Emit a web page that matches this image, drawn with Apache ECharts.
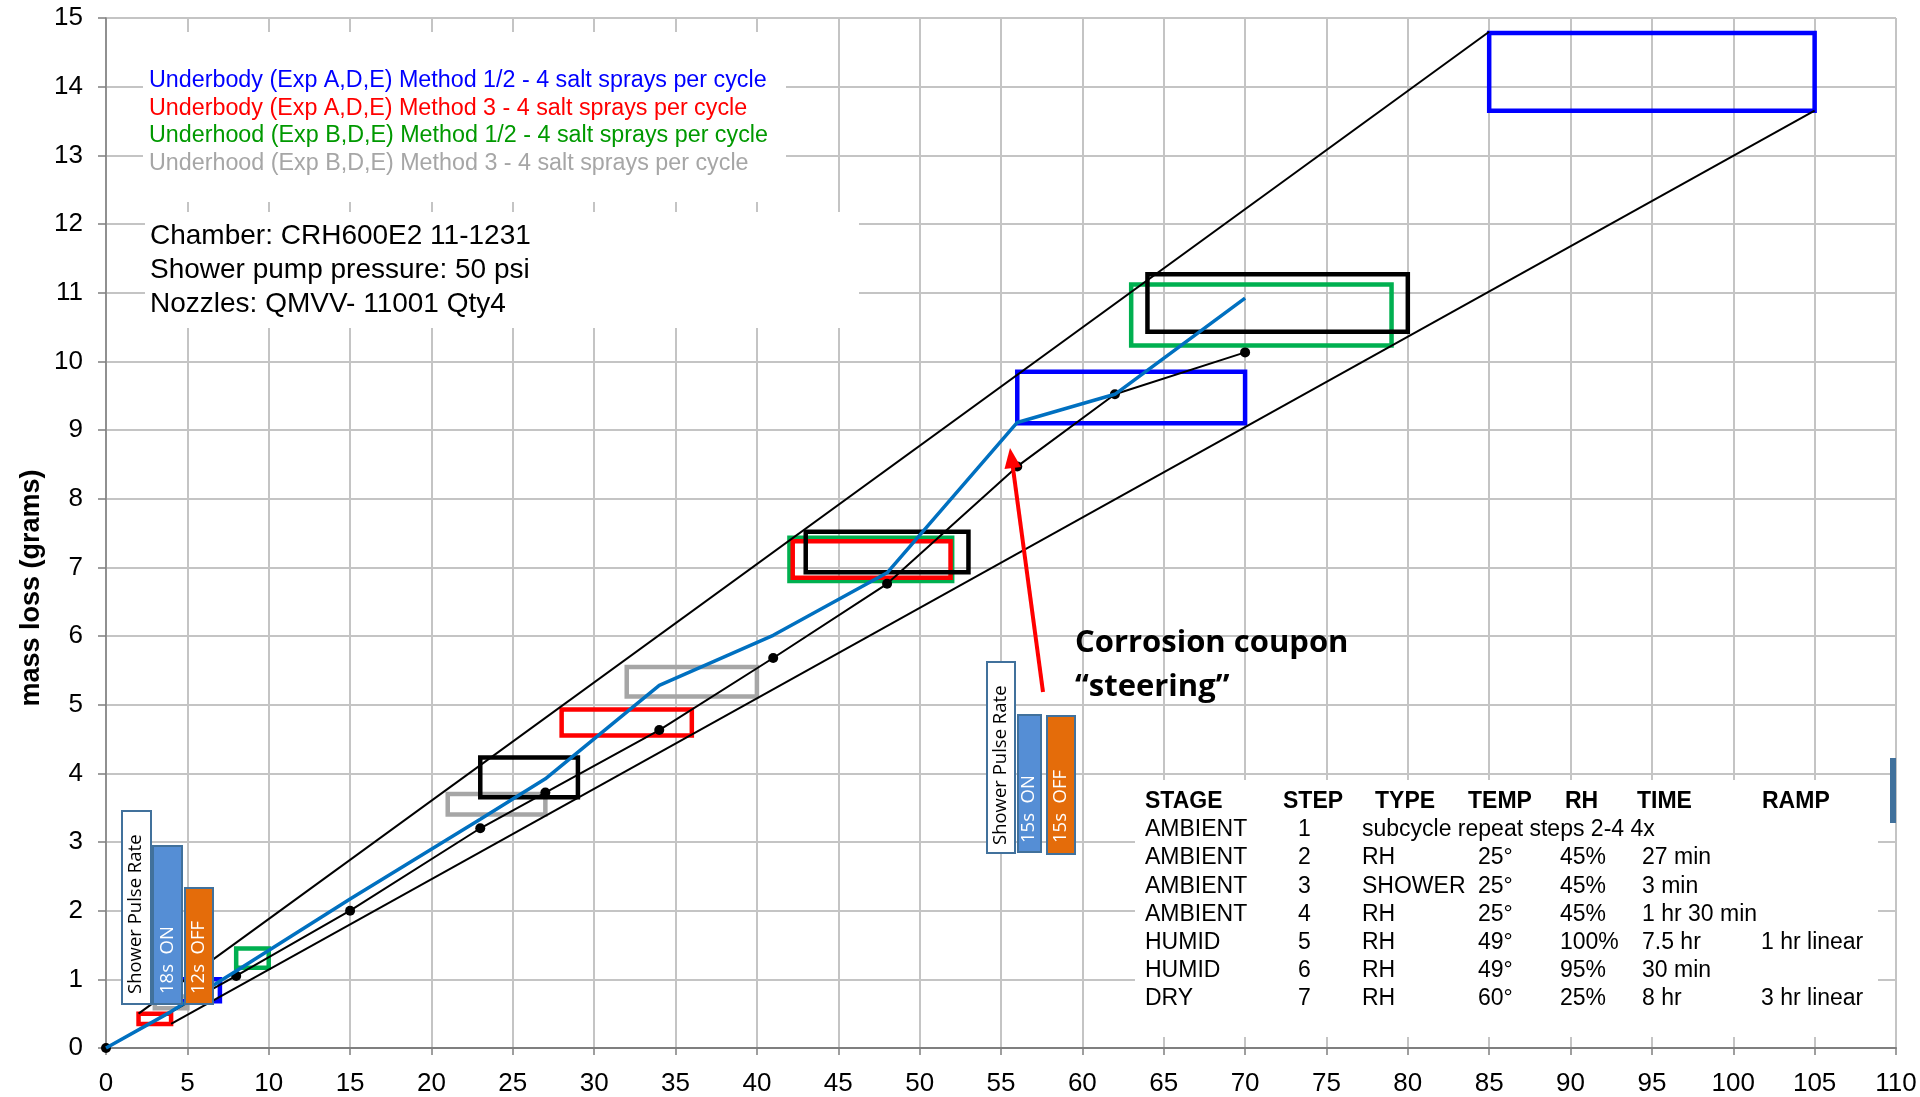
<!DOCTYPE html>
<html>
<head>
<meta charset="utf-8">
<script src="https://cdn.jsdelivr.net/npm/echarts/dist/echarts.min.js"></script>
<style>
  html, body { margin: 0; padding: 0; background: #fff; }
  #chart { width: 1920px; height: 1097px; }
</style>
</head>
<body>
<div id="chart"></div>
<script>
// mass loss per test hour
const avgX = [0, 8, 15, 23, 27, 34, 41, 48, 56, 62, 70];
const avgY = [0, 1.05, 2.0, 3.2, 3.72, 4.63, 5.68, 6.76, 8.47, 9.52, 10.13];
const steerX = [0, 4, 8, 15, 23, 27, 34, 41, 48, 56, 62, 70];
const steerY = [0, 0.53, 1.12, 2.17, 3.33, 3.92, 5.28, 6.01, 6.92, 9.11, 9.52, 10.92];

// envelope lines [x, y]
const upperBound = [[2, 0.5], [85, 14.8]];
const lowerBound = [[4, 0.35], [105, 13.65]];

// target windows [x0, x1, y0, y1]
const grayBoxes = [[3, 5, 0.58, 0.75], [21, 27, 3.4, 3.7], [32, 40, 5.12, 5.55]];
const greenBoxes = [[8, 10, 1.17, 1.45], [42, 52, 6.8, 7.43], [63, 79, 10.23, 11.12]];
const redBoxes = [[2, 4, 0.35, 0.5], [28, 36, 4.55, 4.93], [42.2, 51.9, 6.85, 7.38]];
const blueBoxes = [[4, 7, 0.68, 1.0], [56, 70, 9.1, 9.85], [85, 105, 13.65, 14.78]];
const blackBoxes = [[23, 29, 3.65, 4.23], [43, 53, 6.93, 7.52], [64, 80, 10.43, 11.27]];

const legendLines = [
  'Underbody (Exp A,D,E) Method 1/2 - 4 salt sprays per cycle',
  'Underbody (Exp A,D,E) Method 3 - 4 salt sprays per cycle',
  'Underhood (Exp B,D,E) Method 1/2 - 4 salt sprays per cycle',
  'Underhood (Exp B,D,E) Method 3 - 4 salt sprays per cycle',
];
const chamberLines = [
  'Chamber: CRH600E2 11-1231',
  'Shower pump pressure: 50 psi',
  'Nozzles: QMVV- 11001 Qty4',
];
const tableHeader = ['STAGE', 'STEP', 'TYPE', 'TEMP', 'RH', 'TIME', 'RAMP'];
const tableRows = [
  ['AMBIENT', '1', 'subcycle repeat steps 2-4 4x', '', '', '', ''],
  ['AMBIENT', '2', 'RH', '25°', '45%', '27 min', ''],
  ['AMBIENT', '3', 'SHOWER', '25°', '45%', '3 min', ''],
  ['AMBIENT', '4', 'RH', '25°', '45%', '1 hr 30 min', ''],
  ['HUMID', '5', 'RH', '49°', '100%', '7.5 hr', '1 hr linear'],
  ['HUMID', '6', 'RH', '49°', '95%', '30 min', ''],
  ['DRY', '7', 'RH', '60°', '25%', '8 hr', '3 hr linear'],
];

const FONT = '"Liberation Sans", Arial, sans-serif';
const CAL = '"Open Sans", "Noto Sans", sans-serif';

const zip = (xs, ys) => xs.map((x, i) => [x, ys[i]]);

function boxSeries(data, color) {
  return {
    type: 'custom',
    data,
    encode: { x: [0, 1], y: [2, 3] },
    z: 2,
    silent: true,
    renderItem: (params, api) => {
      const a = api.coord([api.value(0), api.value(3)]);
      const b = api.coord([api.value(1), api.value(2)]);
      return {
        type: 'rect',
        shape: { x: a[0], y: a[1], width: b[0] - a[0], height: b[1] - a[1] },
        style: { fill: 'none', stroke: color, lineWidth: 4.5 },
      };
    },
  };
}

function text(x, y, str, opts = {}) {
  return {
    type: 'text',
    x,
    y,
    z: 20,
    rotation: opts.rotation || 0,
    style: {
      text: str,
      fill: opts.color || '#000',
      fontSize: opts.size || 23,
      fontWeight: opts.weight || 'normal',
      fontFamily: opts.family || FONT,
      align: opts.align || 'left',
      verticalAlign: 'middle',
    },
  };
}

function whiteRect(x, y, w, h) {
  return { type: 'rect', z: 1, shape: { x, y, width: w, height: h }, style: { fill: '#fff' } };
}

function pulseBox(x, y, w, h, fill) {
  return {
    type: 'rect',
    z: 15,
    shape: { x, y, width: w, height: h },
    style: { fill, stroke: '#41719c', lineWidth: 2 },
  };
}

const graphics = [];
// white backing behind the text blocks
graphics.push(whiteRect(143, 32, 643, 170));
graphics.push(whiteRect(145, 212, 714, 116));
graphics.push(whiteRect(1135, 780, 743, 257));

const legendColors = ['#0000ff', '#ff0000', '#009900', '#a6a6a6'];
const legendY = [81, 109, 136, 164];
legendLines.forEach((s, i) => graphics.push(text(149, legendY[i], s, { color: legendColors[i], size: 23.3 })));

const chamberY = [236, 270, 304];
chamberLines.forEach((s, i) => graphics.push(text(150, chamberY[i], s, { size: 28 })));

// y-axis title
graphics.push(text(32, 588, 'mass loss (grams)', { size: 27, weight: 'bold', align: 'center', rotation: Math.PI / 2 }));

// table
const headX = [1145, 1283, 1375, 1468, 1565, 1637, 1762];
const cellX = [1145, 1298, 1362, 1478, 1560, 1642, 1761];
graphics.push(...tableHeader.map((s, i) => text(headX[i], 802, s, { weight: 'bold' })));
tableRows.forEach((row, r) => {
  row.forEach((s, i) => {
    if (s) graphics.push(text(cellX[i], 830 + r * 28.1, s));
  });
});

// shower pulse rate tags
graphics.push(pulseBox(122, 811, 29, 193, '#fff'));
graphics.push(pulseBox(153, 846, 29, 158, '#558ed5'));
graphics.push(pulseBox(185, 888, 28, 116, '#e46c0a'));
graphics.push(text(136, 994, 'Shower Pulse Rate', { size: 18.5, family: CAL, rotation: Math.PI / 2 }));
graphics.push(text(168, 994, '18s  ON', { size: 18.5, family: CAL, color: '#fff', rotation: Math.PI / 2 }));
graphics.push(text(199, 994, '12s  OFF', { size: 18.5, family: CAL, color: '#fff', rotation: Math.PI / 2 }));

graphics.push(pulseBox(987, 662, 28, 191, '#fff'));
graphics.push(pulseBox(1018, 715, 23, 137, '#558ed5'));
graphics.push(pulseBox(1047, 716, 28, 138, '#e46c0a'));
graphics.push(text(1001, 845, 'Shower Pulse Rate', { size: 18.5, family: CAL, rotation: Math.PI / 2 }));
graphics.push(text(1029, 843, '15s  ON', { size: 18.5, family: CAL, color: '#fff', rotation: Math.PI / 2 }));
graphics.push(text(1061, 843, '15s  OFF', { size: 18.5, family: CAL, color: '#fff', rotation: Math.PI / 2 }));

// red arrow + callout
graphics.push({
  type: 'line', z: 18,
  shape: { x1: 1043, y1: 692, x2: 1012.7, y2: 466 },
  style: { stroke: '#ff0000', lineWidth: 4 },
});
graphics.push({
  type: 'polygon', z: 18,
  shape: { points: [[1010, 448], [1021, 467], [1004.5, 469]] },
  style: { fill: '#ff0000' },
});
graphics.push(text(1075, 643, 'Corrosion coupon', { size: 31, weight: 'bold', family: CAL }));
graphics.push(text(1075, 687, '“steering”', { size: 31, weight: 'bold', family: CAL }));

// blue tab peeking at the right edge
graphics.push({ type: 'rect', z: 15, shape: { x: 1890, y: 758, width: 6, height: 65 }, style: { fill: '#41719c' } });

const chart = echarts.init(document.getElementById('chart'));
chart.setOption({
  animation: false,
  backgroundColor: '#fff',
  grid: { left: 106, right: 24, top: 18, bottom: 49 },
  xAxis: {
    type: 'value',
    min: 0,
    max: 110,
    interval: 5,
    axisLine: { lineStyle: { color: '#7f7f7f', width: 2 } },
    axisTick: { show: true, length: 7, lineStyle: { color: '#7f7f7f', width: 1.5 } },
    axisLabel: { color: '#000', fontSize: 26, fontFamily: FONT, margin: 23 },
    splitLine: { lineStyle: { color: '#c4c4c4', width: 2 } },
  },
  yAxis: {
    type: 'value',
    min: 0,
    max: 15,
    interval: 1,
    axisLine: { show: true, lineStyle: { color: '#7f7f7f', width: 1.5 } },
    axisTick: { show: true, length: 8, lineStyle: { color: '#7f7f7f', width: 1.5 } },
    axisLabel: { color: '#000', fontSize: 26, fontFamily: FONT, margin: 23 },
    splitLine: { lineStyle: { color: '#c4c4c4', width: 2 } },
  },
  series: [
    boxSeries(grayBoxes, '#a6a6a6'),
    boxSeries(greenBoxes, '#00b050'),
    boxSeries(redBoxes, '#ff0000'),
    boxSeries(blueBoxes, '#0000ff'),
    boxSeries(blackBoxes, '#000000'),
    {
      type: 'line', data: upperBound, symbol: 'none', z: 3, silent: true,
      lineStyle: { color: '#000', width: 2 },
    },
    {
      type: 'line', data: lowerBound, symbol: 'none', z: 3, silent: true,
      lineStyle: { color: '#000', width: 2 },
    },
    {
      type: 'line', data: zip(avgX, avgY), symbol: 'circle', symbolSize: 10, z: 4, silent: true,
      itemStyle: { color: '#000' },
      lineStyle: { color: '#000', width: 2 },
    },
    {
      type: 'line', data: zip(steerX, steerY), symbol: 'none', z: 5, silent: true,
      lineStyle: { color: '#0070c0', width: 3.5 },
    },
  ],
  graphic: graphics,
});
</script>
</body>
</html>
